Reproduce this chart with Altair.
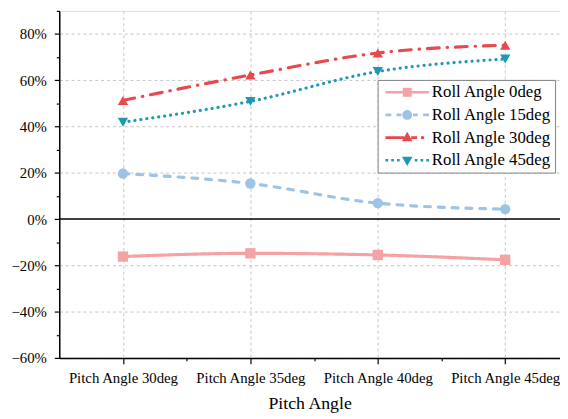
import altair as alt
import pandas as pd

categories = ["Pitch Angle 30deg", "Pitch Angle 35deg", "Pitch Angle 40deg", "Pitch Angle 45deg"]
series = ["Roll Angle 0deg", "Roll Angle 15deg", "Roll Angle 30deg", "Roll Angle 45deg"]
roll_0 = [-16.2, -14.8, -15.5, -17.6]
roll_15 = [19.7, 15.4, 6.9, 4.3]
roll_30 = [51.3, 62.3, 71.8, 75.2]
roll_45 = [41.9, 50.9, 63.8, 69.2]
baseline = [0]
colors = ["#F4A2A4", "#9DC3E6", "#E8494D", "#1F99B2"]
dashes = [[1, 0], [6, 8], [12, 8, 0.5, 8], [0.1, 6]]
shapes = ["square", "circle", "triangle-up", "triangle-down"]
legend_paths = [
    "M-4.9,-0.3H4.9V0.3H-4.9Z M-1,-1H1V1H-1Z",
    "M-4.9,-0.3H-3.6V0.3H-4.9Z M-2.4,-0.3H-1.3V0.3H-2.4Z M1.3,-0.3H2.4V0.3H1.3Z M3.6,-0.3H4.9V0.3H3.6Z M-1.1,0A1.1,1.1 0 1,1 1.1,0A1.1,1.1 0 1,1 -1.1,0Z",
    "M-4.9,-0.3H-0.7V0.3H-4.9Z M0,-1.3L1.2,0.8L-1.2,0.8Z M0.9,-0.3H2.2V0.3H0.9Z M3.1,-0.3H3.8V0.3H3.1Z",
    "M-4.9,-0.3H-4.3V0.3H-4.9Z M-3.6,-0.3H-3.0V0.3H-3.6Z M-2.3,-0.3H-1.7V0.3H-2.3Z M1.7,-0.3H2.3V0.3H1.7Z M3.0,-0.3H3.6V0.3H3.0Z M4.3,-0.3H4.9V0.3H4.3Z M-1.2,-0.8L1.2,-0.8L0,1.3Z",
]

rows = []
for s, vals in zip(series, [roll_0, roll_15, roll_30, roll_45]):
    for i, v in enumerate(vals):
        rows.append({"series": s, "xi": i, "value": v})
df = pd.DataFrame(rows)
df_zero = pd.DataFrame({"value": baseline})

FONT = "Liberation Serif"
label_expr = "datum.value % 1 == 0 ? " + str(categories) + "[datum.value] : ''"

x_axis = alt.Axis(
    values=[0, 0.5, 1, 1.5, 2, 2.5, 3],
    labelExpr=label_expr,
    title="Pitch Angle",
    titleFont=FONT, titleFontSize=18, titleFontWeight="normal", titleColor="black",
    titlePadding=9,
    labelFont=FONT, labelFontSize=15, labelColor="black", labelPadding=7,
    labelFlush=False, labelOverlap=False,
    tickSize={"condition": {"test": "datum.value % 1 != 0", "value": 3}, "value": 6},
    gridOpacity={"condition": {"test": "datum.value % 1 != 0", "value": 0}, "value": 1},
)
y_axis = alt.Axis(
    values=list(range(-60, 91, 10)),
    labelExpr="datum.value % 20 == 0 ? format(datum.value / 100, '.0%') : ''",
    title=None,
    labelFont=FONT, labelFontSize=15, labelColor="black", labelPadding=8,
    labelOverlap=False, labelFlush=False,
    tickSize={"condition": {"test": "datum.value % 20 != 0", "value": 3}, "value": 5},
    gridOpacity={"condition": {"test": "datum.value % 20 != 0 || datum.value == 0", "value": 0}, "value": 1},
)
x_enc = alt.X("xi:Q", scale=alt.Scale(domain=[-0.5, 3.43], nice=False, zero=False), axis=x_axis)
y_enc = alt.Y("value:Q", scale=alt.Scale(domain=[-60, 90], nice=False, zero=False), axis=y_axis)

color_scale = alt.Scale(domain=series, range=colors)

legend_props = dict(
    title=None, orient="none", legendX=323, legendY=70,
    fillColor="white", strokeColor="#808080", padding=4,
    labelFont=FONT, labelFontSize=17, labelColor="black", labelLimit=300,
    symbolSize=81, symbolOffset=17.5, labelOffset=16.5, rowPadding=5,
    symbolStrokeWidth=0, symbolOpacity=1,
)

# tiny markers carrying the legend, hidden beneath the real markers
legend_layer = alt.Chart(df).mark_point(filled=True, opacity=1, size=1).encode(
    x=x_enc, y=y_enc,
    color=alt.Color("series:N", scale=color_scale, legend=alt.Legend(**legend_props)),
    shape=alt.Shape("series:N", scale=alt.Scale(domain=series, range=legend_paths), legend=alt.Legend(**legend_props)),
)

lines = alt.Chart(df).mark_line(interpolate="monotone", strokeWidth=3.2, strokeCap="round").encode(
    x=x_enc, y=y_enc,
    color=alt.Color("series:N", scale=color_scale, legend=None),
    strokeDash=alt.StrokeDash("series:N", scale=alt.Scale(domain=series, range=dashes), legend=None),
    detail="series:N",
)

zero = alt.Chart(df_zero).mark_rule(color="black", strokeWidth=1.5).encode(y=y_enc)

point_layers = []
for s, shp in zip(series, shapes):
    point_layers.append(
        alt.Chart(df).transform_filter(alt.datum.series == s).mark_point(
            filled=True, opacity=1, size=110, shape=shp
        ).encode(
            x=x_enc, y=y_enc,
            color=alt.Color("series:N", scale=color_scale, legend=None),
        )
    )

chart = alt.layer(legend_layer, lines, zero, *point_layers).properties(
    width=508, height=352,
    autosize=alt.AutoSizeParams(type="none"),
    padding={"left": 52, "top": 0, "right": 0, "bottom": 57},
).configure_view(strokeWidth=0).configure(background="white").configure_axis(
    labelFont=FONT, titleFont=FONT, labelColor="black", titleColor="black",
    labelFontSize=15,
    domainColor="black", domainWidth=1.5, tickColor="black", tickWidth=1.2,
    grid=True, gridColor="#c4c4c4", gridDash=[3, 3], gridWidth=1,
).configure_legend(labelFont=FONT, labelFontSize=17)

chart.save("out.html", embed_options={"renderer": "svg", "actions": False})
